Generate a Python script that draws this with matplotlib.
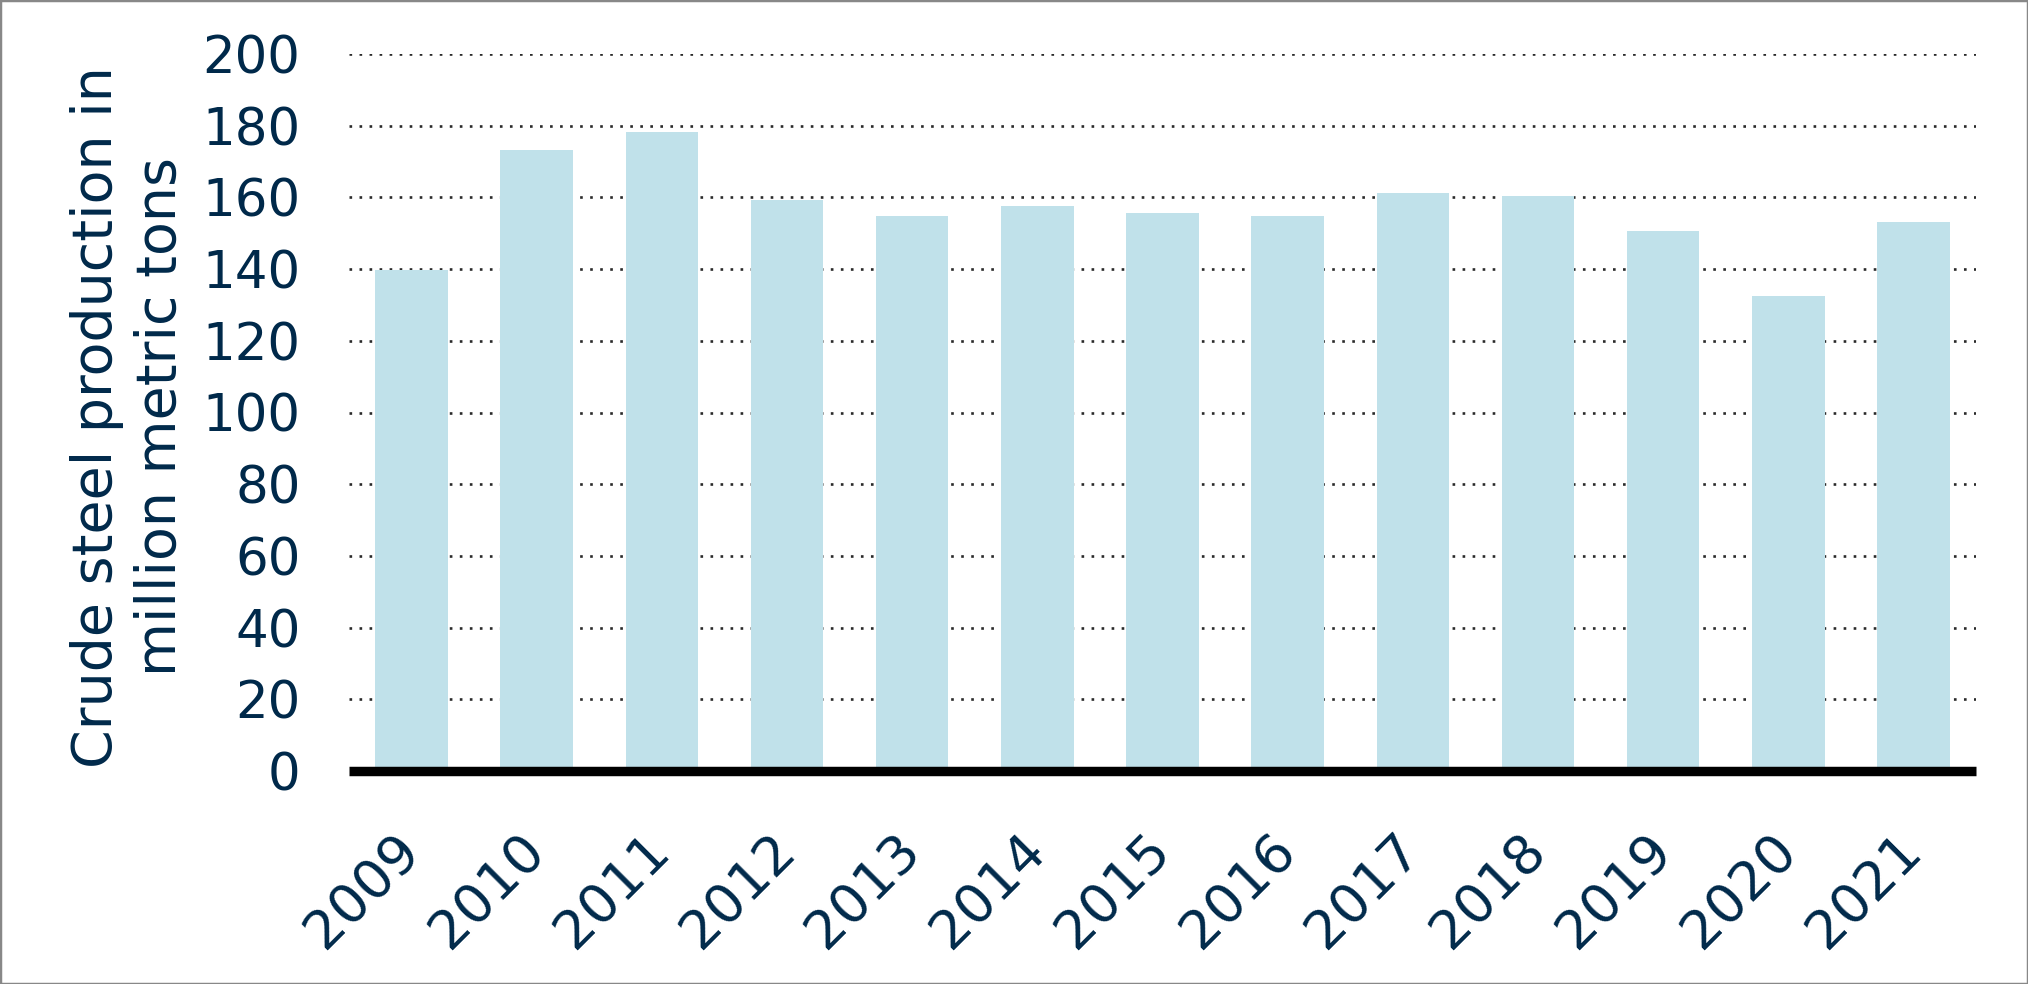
import matplotlib
matplotlib.use("Agg")
import matplotlib.pyplot as plt
from matplotlib.patches import Rectangle
import matplotlib.transforms as mtransforms

years = ["2009", "2010", "2011", "2012", "2013", "2014", "2015",
         "2016", "2017", "2018", "2019", "2020", "2021"]
production = [139.7, 173.1, 178.2, 159.3, 154.8, 157.6, 155.6,
              154.8, 161.2, 160.3, 150.6, 132.5, 153.1]
y_ticks = [0, 20, 40, 60, 80, 100, 120, 140, 160, 180, 200]

navy = "#00294A"
bar_col = "#C0E1EA"

plt.rcParams["font.family"] = ["DejaVu Sans"]

fig = plt.figure(figsize=(20.28, 9.84), dpi=100)
ax = fig.add_axes([349 / 2028, 213 / 984, (1976 - 349) / 2028, (771 - 54) / 984])

x = range(len(years))
ax.bar(x, production, width=0.58, color=bar_col, zorder=2)

# dotted grid
for t in y_ticks[1:]:
    ax.axhline(t, color="#2A2A2A", lw=1.9, linestyle=(0, (1, 2.8)), zorder=1)

# thick base line
ax.axhline(0, color="black", lw=6.8, zorder=3, solid_capstyle="butt", clip_on=False)

ax.set_xlim(-0.5, len(years) - 0.5)
ax.set_ylim(0, 200)
for s in ax.spines.values():
    s.set_visible(False)

ax.set_yticks(y_ticks)
ax.set_yticklabels([str(t) for t in y_ticks], fontsize=37, color=navy)
ax.tick_params(axis="y", length=0, pad=35)

ax.set_xticks(list(x))
ax.set_xticklabels(years, fontsize=39, color=navy, rotation=45, ha="right")
ax.tick_params(axis="x", length=0, pad=38)
offset = mtransforms.ScaledTranslation(18 / 100, 0, fig.dpi_scale_trans)
for lab in ax.get_xticklabels():
    lab.set_transform(lab.get_transform() + offset)

fig.text(129 / 2028, 1 - 417 / 984, "Crude steel production in\nmillion metric tons",
         fontsize=40, color=navy, rotation=90, ha="center", va="center",
         multialignment="center", linespacing=1.25)

# grey frame around the picture
fig.patches.append(Rectangle((0, 0), 1, 1, transform=fig.transFigure,
                             fill=False, edgecolor="#888888", lw=2.5))

fig.savefig("out.png", dpi=100)
